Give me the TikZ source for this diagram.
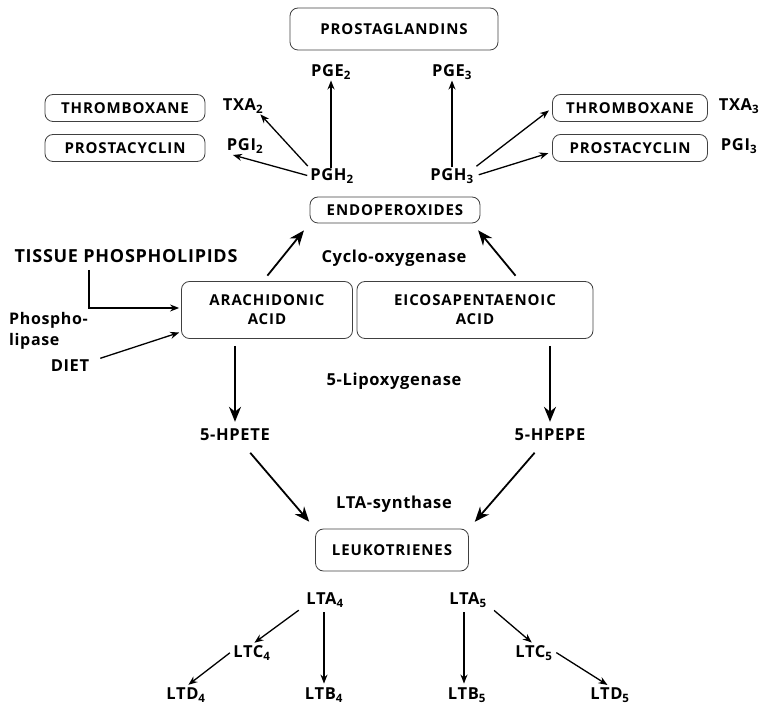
\documentclass[tikz,border=0pt]{standalone}
\usepackage{fontspec}
\setmainfont{Open Sans}
\usepackage{tikz}
\usetikzlibrary{arrows.meta, positioning, calc}

\tikzset{
  box/.style={draw=black!75, line width=0.8pt, rounded corners=8pt, align=center,
    inner sep=2pt, font=\fontsize{15}{19}\selectfont\bfseries\addfontfeature{LetterSpace=6}},
  lbl/.style={font=\fontsize{16.5}{20}\selectfont\bfseries\addfontfeature{LetterSpace=4}, inner sep=1pt},
  biglbl/.style={font=\fontsize{18}{21}\selectfont\bfseries\addfontfeature{LetterSpace=4}, inner sep=1pt},
  arr/.style={-{Stealth[length=9pt,width=7pt]}, line width=1.3pt},
  bigarr/.style={-{Stealth[length=15pt,width=12pt]}, line width=1.8pt}
}
\newcommand{\sub}[1]{\textsubscript{#1}}

\begin{document}
\begin{tikzpicture}[x=1pt,y=-1pt]
\useasboundingbox (0,0) rectangle (764,708);

% Prostaglandin branch
\node[box, minimum width=208pt, minimum height=42pt] (pg) at (394,29) {PROSTAGLANDINS};
\node[lbl] (pge2) at (331,72) {PGE\sub{2}};
\node[lbl] (pge3) at (452,72) {PGE\sub{3}};
\node[box, minimum width=160pt, minimum height=27pt] (thrL) at (125,108) {THROMBOXANE};
\node[box, minimum width=160pt, minimum height=27pt] (pcL) at (125,148) {PROSTACYCLIN};
\node[box, minimum width=155pt, minimum height=27pt] (thrR) at (630,108) {THROMBOXANE};
\node[box, minimum width=155pt, minimum height=27pt] (pcR) at (630,148) {PROSTACYCLIN};
\node[lbl] (txa2) at (243,106) {TXA\sub{2}};
\node[lbl] (pgi2) at (245,146) {PGI\sub{2}};
\node[lbl] (txa3) at (739,106) {TXA\sub{3}};
\node[lbl] (pgi3) at (739,146) {PGI\sub{3}};
\node[lbl] (pgh2) at (332,176) {PGH\sub{2}};
\node[lbl] (pgh3) at (452,176) {PGH\sub{3}};

\draw[arr] (pgh2.north -| pge2) -- (pge2);
\draw[arr] (pgh3.north -| pge3) -- (pge3);
\draw[arr, shorten <=2pt] (pgh2.north west) -- ([xshift=-4pt]txa2.south east);
\draw[arr, shorten <=2pt, shorten >=2pt] (pgh2.west) -- ([xshift=-14pt]pgi2.south);
\draw[arr, shorten <=2pt, shorten >=4pt] (pgh3.north east) -- (thrR.west);
\draw[arr, shorten <=4pt, shorten >=4pt] (pgh3.east) -- ([yshift=-4pt]pcR.west);

% Endoperoxides and fatty acids
\node[box, minimum width=170pt, minimum height=26pt] (endo) at (395,210) {ENDOPEROXIDES};
\node[biglbl] (tissue) at (126,256) {TISSUE PHOSPHOLIPIDS};
\node[lbl] (cyclo) at (394,258) {Cyclo-oxygenase};
\node[box, minimum width=171pt, minimum height=57pt] (ara) at (267,310) {ARACHIDONIC\\ACID};
\node[box, minimum width=236pt, minimum height=57pt] (epa) at (475,310) {EICOSAPENTAENOIC\\ACID};
\node[lbl, align=left, anchor=west, font=\fontsize{16}{21}\selectfont\bfseries\addfontfeature{LetterSpace=4}] (plip) at (8,331) {Phospho-\\lipase};
\node[lbl] (diet) at (70,366) {DIET};

\draw[bigarr, shorten <=7pt, shorten >=9pt] ([xshift=-4pt]ara.north) -- (endo.south west);
\draw[bigarr, shorten <=7pt, shorten >=9pt] ([xshift=45pt]epa.north) -- ([xshift=-8pt]endo.south east);
\draw[arr, shorten <=6pt, shorten >=2pt] ([xshift=-37pt]tissue.south) |- ([yshift=2pt]ara.west);
\draw[arr, shorten <=2pt, shorten >=2pt] ([xshift=8pt]diet.north east) -- ([yshift=7pt]ara.south west);

% Lipoxygenase branch
\node[lbl] (lipox) at (394,381) {5-Lipoxygenase};
\node[lbl] (hpete) at (235,435) {5-HPETE};
\node[lbl] (hpepe) at (550,435) {5-HPEPE};
\draw[bigarr, shorten <=7pt, shorten >=6pt] (ara.south -| hpete) -- (hpete);
\draw[bigarr, shorten <=7pt, shorten >=6pt] (epa.south -| hpepe) -- (hpepe);

\node[lbl] (ltas) at (394,504) {LTA-synthase};
\node[box, minimum width=153pt, minimum height=42pt] (leuko) at (392,550) {LEUKOTRIENES};
\draw[bigarr, shorten <=14pt, shorten >=9pt] (hpete) -- (leuko.north west);
\draw[bigarr, shorten <=14pt, shorten >=9pt] (hpepe) -- (leuko.north east);

% Leukotrienes
\node[lbl] (lta4) at (325,600) {LTA\sub{4}};
\node[lbl] (lta5) at (468,600) {LTA\sub{5}};
\node[lbl] (ltc4) at (252,653) {LTC\sub{4}};
\node[lbl] (ltc5) at (534,653) {LTC\sub{5}};
\node[lbl] (ltd4) at (186,695) {LTD\sub{4}};
\node[lbl] (ltb4) at (324,695) {LTB\sub{4}};
\node[lbl] (ltb5) at (467,695) {LTB\sub{5}};
\node[lbl] (ltd5) at (610,695) {LTD\sub{5}};

\draw[arr, shorten <=3pt, shorten >=3pt] ([xshift=-4pt]lta4.south west) -- (ltc4.north);
\draw[arr, shorten <=4pt, shorten >=3pt] (lta4.south -| ltb4) -- (ltb4);
\draw[arr, shorten <=3pt, shorten >=3pt] ([yshift=2pt]ltc4.west) -- (ltd4.north);
\draw[arr, shorten <=4pt, shorten >=3pt] ([xshift=-4pt]lta5.south) -- ([xshift=-4pt]lta5.south |- ltb5.north);
\draw[arr, shorten <=3pt, shorten >=3pt] ([xshift=4pt]lta5.south east) -- (ltc5.north);
\draw[arr, shorten <=3pt, shorten >=3pt] ([yshift=2pt]ltc5.east) -- (ltd5.north);
\end{tikzpicture}
\end{document}
